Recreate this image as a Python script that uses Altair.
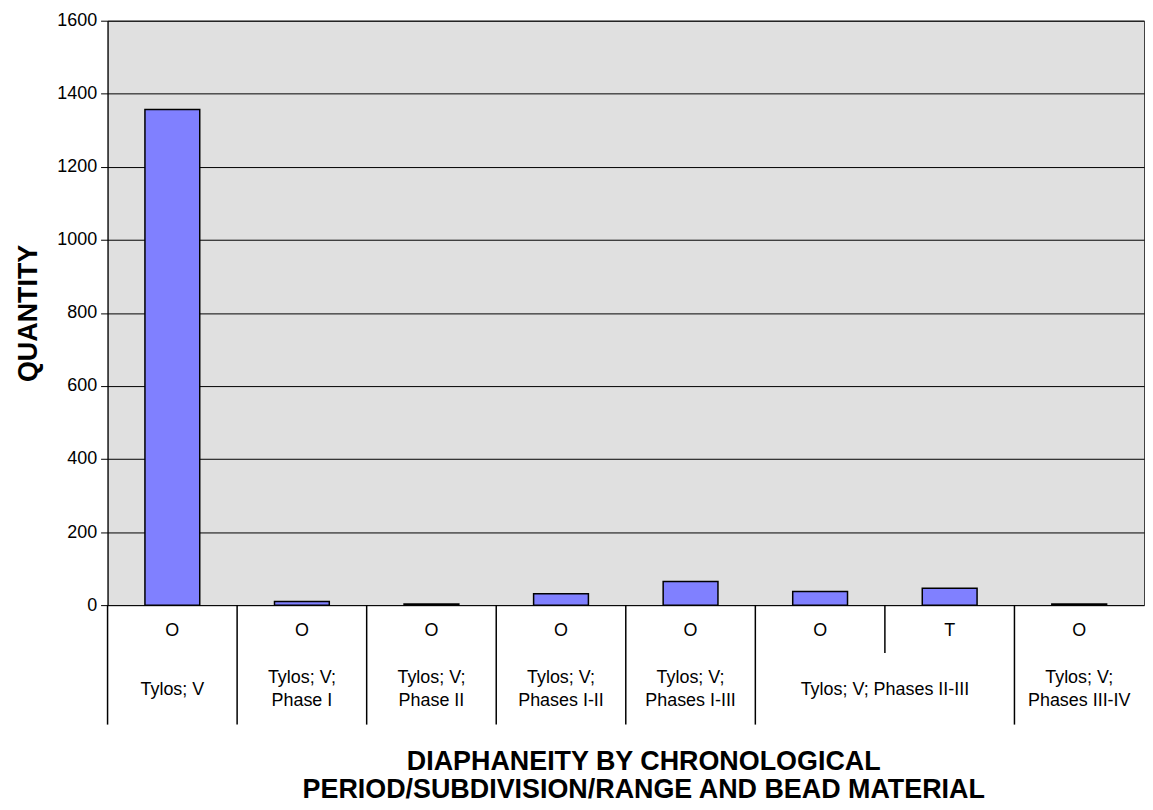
import altair as alt
import pandas as pd

# ---- data ----
groups = [
    "Tylos; V",
    "Tylos; V; Phase I",
    "Tylos; V; Phase II",
    "Tylos; V; Phases I-II",
    "Tylos; V; Phases I-III",
    "Tylos; V; Phases II-III",
    "Tylos; V; Phases II-III",
    "Tylos; V; Phases III-IV",
]
materials = ["O", "O", "O", "O", "O", "O", "T", "O"]
quantities = [1357, 10, 3, 31, 65, 37, 46, 3]
y_ticks = [0, 200, 400, 600, 800, 1000, 1200, 1400, 1600]
x_title = ["DIAPHANEITY BY CHRONOLOGICAL", "PERIOD/SUBDIVISION/RANGE AND BEAD MATERIAL"]
y_title = "QUANTITY"

FONT = "Liberation Sans"
W = 1041
H = 587
TABLE_H = 120
LINE_H = 23

keys = [str(i) for i in range(len(groups))]
bars_df = pd.DataFrame({"key": keys, "material": materials, "group": groups, "quantity": quantities})

bars = alt.Chart(bars_df).mark_bar(
    color="#8080ff", stroke="black", strokeWidth=1.5
).encode(
    x=alt.X("key:N", sort=keys, axis=None,
            scale=alt.Scale(paddingInner=0.577, paddingOuter=0.2885)),
    y=alt.Y("quantity:Q",
            scale=alt.Scale(domain=[0, 1600], nice=False),
            axis=alt.Axis(values=y_ticks, format="d", title=y_title, titleFont=FONT,
                          titleFontSize=27, titleFontWeight="bold", titleColor="black",
                          titlePadding=14, labelFont=FONT, labelFontSize=18,
                          labelColor="black", labelPadding=4, tickSize=7,
                          tickColor="black", domainColor="black", gridColor="black",
                          gridOpacity=1, grid=True)),
).properties(width=W, height=H)

# ---- category table below the plot ----
n = len(groups)
full_rules = []
short_rules = []
for i in range(n):
    if i == 0 or groups[i] != groups[i - 1]:
        full_rules.append(i)
    else:
        short_rules.append(i)
full_df = pd.DataFrame({"pos": full_rules})
short_df = pd.DataFrame({"pos": short_rules})

mat_df = pd.DataFrame({"pos": [i + 0.5 for i in range(n)], "material": materials})

grp_pos, grp_lab, grp_lines = [], [], []
start = 0
for i in range(1, n + 1):
    if i == n or groups[i] != groups[start]:
        g = groups[start]
        if i - start == 1 and "; Phase" in g:
            idx = g.index("; Phase")
            lab = g[: idx + 1] + "\n" + g[idx + 2:]
        else:
            lab = g
        grp_pos.append((start + i) / 2)
        grp_lab.append(lab)
        grp_lines.append(lab.count("\n") + 1)
        start = i
grp_df = pd.DataFrame({"pos": grp_pos, "label": grp_lab, "lines": grp_lines})

x_axis = alt.Axis(title=x_title, labels=False, ticks=False, domain=False, grid=False,
                  titleFont=FONT, titleFontSize=27, titleFontWeight="bold",
                  titleColor="black", titleLineHeight=28, titlePadding=24, titleX=538)
x_enc = alt.X("pos:Q", scale=alt.Scale(domain=[0, n], nice=False, zero=False), axis=x_axis)

full_layer = alt.Chart(full_df).mark_rule(color="black", strokeWidth=1.5).encode(
    x=x_enc, y=alt.value(0), y2=alt.value(TABLE_H))
short_layer = alt.Chart(short_df).mark_rule(color="black", strokeWidth=1.5).encode(
    x=x_enc, y=alt.value(0), y2=alt.value(48))
mat_layer = alt.Chart(mat_df).mark_text(
    font=FONT, fontSize=18, color="black", baseline="middle", align="center"
).encode(x=x_enc, y=alt.value(26), text="material:N")
text_style = dict(font=FONT, fontSize=18, color="black", baseline="middle",
                  align="center", lineBreak="\n", lineHeight=LINE_H)
grp1_layer = alt.Chart(grp_df).transform_filter("datum.lines == 1").mark_text(
    **text_style).encode(x=x_enc, y=alt.value(85), text="label:N")
grp2_layer = alt.Chart(grp_df).transform_filter("datum.lines == 2").mark_text(
    **text_style).encode(x=x_enc, y=alt.value(85 - LINE_H / 2), text="label:N")

table = alt.layer(full_layer, short_layer, mat_layer, grp1_layer, grp2_layer).properties(
    width=W, height=TABLE_H
)

chart = alt.vconcat(
    bars,
    table,
    spacing=0,
    bounds="flush",
).properties(
    padding={"left": 6, "top": 1, "right": 0, "bottom": 0},
    background="white",
).configure_view(
    stroke=None
)

spec = chart.to_dict()
spec["vconcat"][0]["view"] = {"fill": "#e0e0e0", "stroke": "#404040"}
chart = alt.VConcatChart.from_dict(spec)

chart.save("out.html", embed_options={"renderer": "svg", "actions": False})
